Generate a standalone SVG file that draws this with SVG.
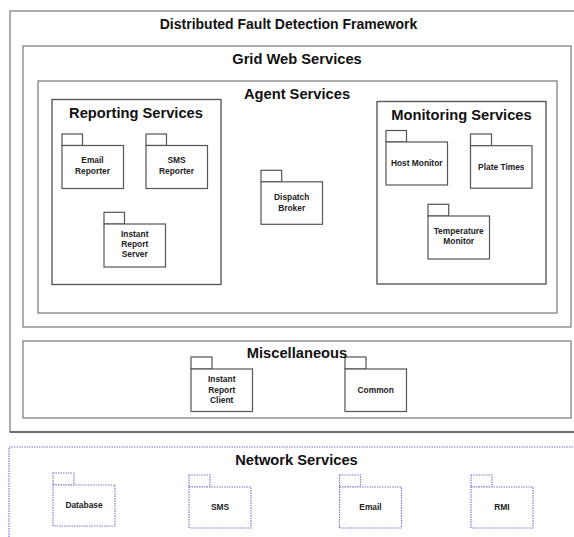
<svg xmlns="http://www.w3.org/2000/svg" width="574" height="537" viewBox="0 0 574 537">
  <style>
    .frame { fill: none; stroke: #8a8a8a; stroke-width: 1.4; }
    .frame-dark { fill: none; stroke: #5a5a5a; stroke-width: 1.4; }
    .pkg { fill: #ffffff; stroke: #555555; stroke-width: 1.2; }
    .net { fill: none; stroke: #7b7bd0; stroke-width: 1.2; stroke-dasharray: 1.5 1; }
    .netpkg { fill: #ffffff; stroke: #7b7bd0; stroke-width: 1.2; stroke-dasharray: 1.5 1; }
    .title { font-family: "Liberation Sans", Arial, sans-serif; font-weight: bold; font-size: 14.7px; fill: #111111; text-anchor: middle; }
    .label { font-family: "Liberation Sans", Arial, sans-serif; font-weight: bold; font-size: 8.4px; fill: #222222; text-anchor: middle; }
  </style>
  <rect width="574" height="537" fill="#ffffff"/>

  <!-- Outer framework container -->
  <g id="framework">
    <rect class="frame" x="10" y="11" width="572" height="421"/>
    <line class="frame-dark" x1="10" y1="432" x2="574" y2="432"/>
    <text class="title" x="288.5" y="28.5" style="font-size:14px">Distributed Fault Detection Framework</text>
  </g>

  <g id="grid-web-services">
    <rect class="frame" x="23" y="46" width="548" height="281"/>
    <text class="title" x="297" y="63.5">Grid Web Services</text>
  </g>

  <g id="agent-services">
    <rect class="frame" x="38" y="81" width="519" height="232"/>
    <text class="title" x="297" y="98.5">Agent Services</text>
  </g>

  <g id="reporting-services">
    <rect class="frame-dark" x="52" y="99.5" width="169" height="185"/>
    <text class="title" x="136" y="118">Reporting Services</text>
  </g>

  <g id="email-reporter">
    <rect class="pkg" x="62" y="134" width="20.5" height="11.5"/>
    <rect class="pkg" x="62" y="145.5" width="61.5" height="43"/>
    <text class="label" x="92.5" y="163.3">Email</text>
    <text class="label" x="92.5" y="174">Reporter</text>
  </g>

  <g id="sms-reporter">
    <rect class="pkg" x="146" y="134" width="20.5" height="11.5"/>
    <rect class="pkg" x="146" y="145.5" width="61.5" height="43"/>
    <text class="label" x="176.5" y="163.3">SMS</text>
    <text class="label" x="176.5" y="174">Reporter</text>
  </g>

  <g id="instant-report-server">
    <rect class="pkg" x="104" y="212.3" width="20.5" height="11.7"/>
    <rect class="pkg" x="104" y="224" width="61.5" height="43"/>
    <text class="label" x="134.7" y="236.7">Instant</text>
    <text class="label" x="134.7" y="247">Report</text>
    <text class="label" x="134.7" y="257.3">Server</text>
  </g>

  <g id="dispatch-broker">
    <rect class="pkg" x="261" y="170.3" width="20.7" height="11.5"/>
    <rect class="pkg" x="261" y="181.8" width="61.5" height="42.5"/>
    <text class="label" x="291.7" y="200">Dispatch</text>
    <text class="label" x="291.7" y="210.5">Broker</text>
  </g>

  <g id="monitoring-services">
    <rect class="frame-dark" x="377" y="101.5" width="169" height="182.5"/>
    <text class="title" x="461.5" y="120">Monitoring Services</text>
  </g>

  <g id="host-monitor">
    <rect class="pkg" x="386" y="130.5" width="20.5" height="11.5"/>
    <rect class="pkg" x="386" y="142" width="61.5" height="43"/>
    <text class="label" x="416.7" y="166.3">Host Monitor</text>
  </g>

  <g id="plate-times">
    <rect class="pkg" x="470.5" y="134" width="21" height="11.7"/>
    <rect class="pkg" x="470.5" y="145.7" width="61.5" height="42.5"/>
    <text class="label" x="501.3" y="169.5">Plate Times</text>
  </g>

  <g id="temperature-monitor">
    <rect class="pkg" x="428" y="204.3" width="20.7" height="11.7"/>
    <rect class="pkg" x="428" y="216" width="61.5" height="43"/>
    <text class="label" x="458.7" y="234">Temperature</text>
    <text class="label" x="458.7" y="244.3">Monitor</text>
  </g>

  <g id="miscellaneous">
    <rect class="frame" x="23" y="341" width="548" height="77"/>
  </g>

  <g id="instant-report-client">
    <rect class="pkg" x="191" y="357" width="21" height="12"/>
    <rect class="pkg" x="191" y="369" width="61.5" height="42.5"/>
    <text class="label" x="221.7" y="382.3">Instant</text>
    <text class="label" x="221.7" y="392.7">Report</text>
    <text class="label" x="221.7" y="403.3">Client</text>
  </g>

  <g id="common">
    <rect class="pkg" x="345" y="357" width="21" height="12"/>
    <rect class="pkg" x="345" y="369" width="61.5" height="42.5"/>
    <text class="label" x="375.7" y="392.7">Common</text>
  </g>

  <!-- container title sits above the package tabs -->
  <text class="title" x="297" y="358.3">Miscellaneous</text>

  <g id="network-services">
    <rect class="net" x="9" y="447" width="580" height="100"/>
    <text class="title" x="296.5" y="465">Network Services</text>
  </g>

  <g id="database">
    <rect class="netpkg" x="53" y="473" width="21" height="12"/>
    <rect class="netpkg" x="53" y="485" width="62" height="41"/>
    <text class="label" x="84" y="508">Database</text>
  </g>

  <g id="sms">
    <rect class="netpkg" x="189" y="475" width="21" height="12"/>
    <rect class="netpkg" x="189" y="487" width="62" height="41"/>
    <text class="label" x="220" y="510">SMS</text>
  </g>

  <g id="email">
    <rect class="netpkg" x="339.5" y="475" width="21" height="12"/>
    <rect class="netpkg" x="339.5" y="487" width="62" height="41"/>
    <text class="label" x="370.5" y="510">Email</text>
  </g>

  <g id="rmi">
    <rect class="netpkg" x="471" y="475" width="21" height="12"/>
    <rect class="netpkg" x="471" y="487" width="62" height="41"/>
    <text class="label" x="502" y="510">RMI</text>
  </g>

  <!-- the layout has no connectors -->
  <g id="connectors"/>
</svg>
